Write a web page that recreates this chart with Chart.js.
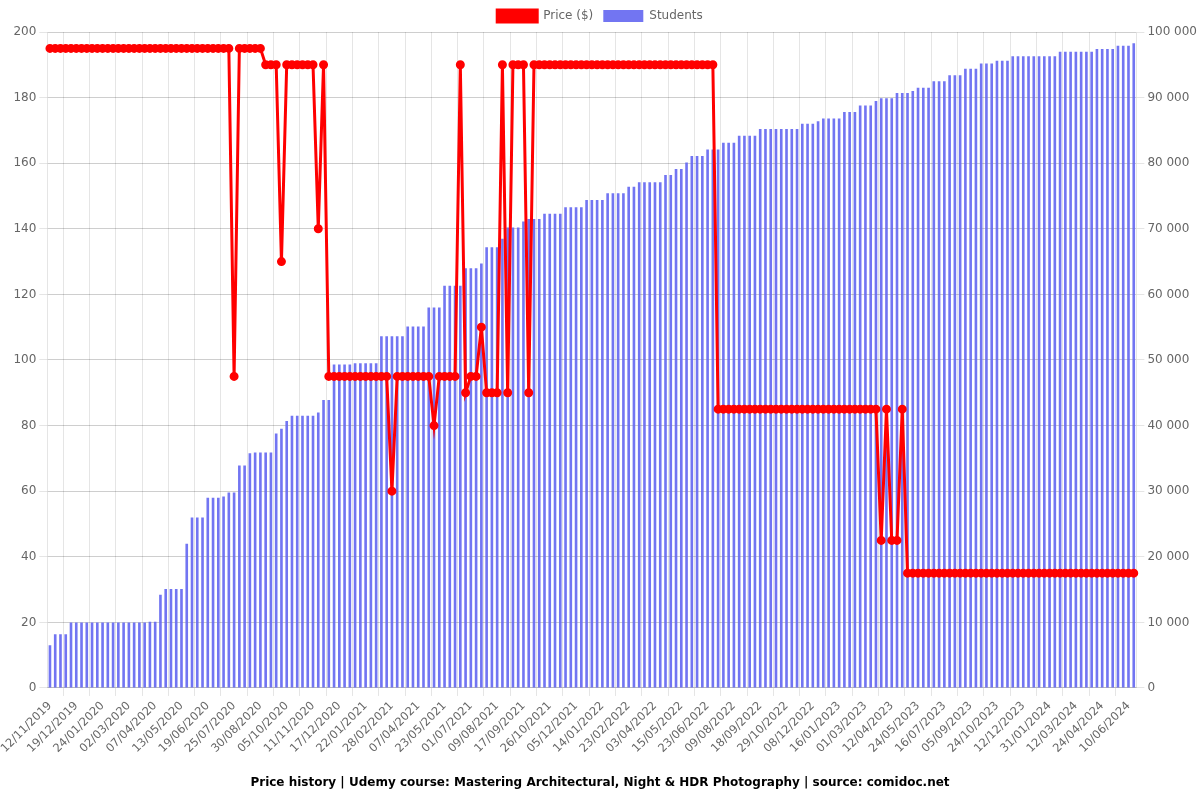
<!DOCTYPE html>
<html>
<head>
<meta charset="utf-8">
<title>Price history</title>
<script src="https://cdn.jsdelivr.net/npm/chart.js@4.4.1/dist/chart.umd.min.js"></script>
<style>
    html, body { margin: 0; padding: 0; background: #fff; }
    .chart-wrap { width: 1200px; height: 800px; position: relative; }
</style>
</head>
<body>
<div class="chart-wrap">
    <canvas id="priceChart"></canvas>
</div>
<script>
// Visible x labels (every 5th point of the series)
const tickLabels = [
    '12/11/2019', '19/12/2019', '24/01/2020', '02/03/2020', '07/04/2020', '13/05/2020',
    '19/06/2020', '25/07/2020', '30/08/2020', '05/10/2020', '11/11/2020', '17/12/2020',
    '22/01/2021', '28/02/2021', '07/04/2021', '23/05/2021', '01/07/2021', '09/08/2021',
    '17/09/2021', '26/10/2021', '05/12/2021', '14/01/2022', '23/02/2022', '03/04/2022',
    '15/05/2022', '23/06/2022', '09/08/2022', '18/09/2022', '29/10/2022', '08/12/2022',
    '16/01/2023', '01/03/2023', '12/04/2023', '24/05/2023', '16/07/2023', '05/09/2023',
    '24/10/2023', '12/12/2023', '31/01/2024', '12/03/2024', '24/04/2024', '10/06/2024'
];

const prices = [
    195, 195, 195, 195, 195, 195, 195, 195, 195, 195,
    195, 195, 195, 195, 195, 195, 195, 195, 195, 195,
    195, 195, 195, 195, 195, 195, 195, 195, 195, 195,
    195, 195, 195, 195, 195, 95, 195, 195, 195, 195,
    195, 190, 190, 190, 130, 190, 190, 190, 190, 190,
    190, 140, 190, 95, 95, 95, 95, 95, 95, 95,
    95, 95, 95, 95, 95, 60, 95, 95, 95, 95,
    95, 95, 95, 80, 95, 95, 95, 95, 190, 90,
    95, 95, 110, 90, 90, 90, 190, 90, 190, 190,
    190, 90, 190, 190, 190, 190, 190, 190, 190, 190,
    190, 190, 190, 190, 190, 190, 190, 190, 190, 190,
    190, 190, 190, 190, 190, 190, 190, 190, 190, 190,
    190, 190, 190, 190, 190, 190, 190, 85, 85, 85,
    85, 85, 85, 85, 85, 85, 85, 85, 85, 85,
    85, 85, 85, 85, 85, 85, 85, 85, 85, 85,
    85, 85, 85, 85, 85, 85, 85, 85, 45, 85,
    45, 45, 85, 35, 35, 35, 35, 35, 35, 35,
    35, 35, 35, 35, 35, 35, 35, 35, 35, 35,
    35, 35, 35, 35, 35, 35, 35, 35, 35, 35,
    35, 35, 35, 35, 35, 35, 35, 35, 35, 35,
    35, 35, 35, 35, 35, 35, 35
];

const students = [
    6500, 8200, 8200, 8200, 10000, 10000, 10000, 10000, 10000, 10000,
    10000, 10000, 10000, 10000, 10000, 10000, 10000, 10000, 10000, 10100,
    10100, 14200, 15100, 15100, 15100, 15100, 22000, 26000, 26000, 26000,
    29000, 29000, 29000, 29200, 29800, 29800, 33900, 33900, 35800, 35900,
    35900, 35900, 35900, 38800, 39500, 40700, 41500, 41500, 41500, 41500,
    41500, 42000, 43900, 43900, 49300, 49300, 49300, 49300, 49500, 49500,
    49500, 49500, 49500, 53600, 53600, 53600, 53600, 53600, 55100, 55100,
    55100, 55100, 58000, 58000, 58000, 61300, 61300, 61300, 61300, 64000,
    64000, 64000, 64700, 67200, 67200, 67200, 68500, 70200, 70200, 70200,
    71100, 71500, 71500, 71500, 72300, 72300, 72300, 72300, 73300, 73300,
    73300, 73300, 74400, 74400, 74400, 74400, 75400, 75400, 75400, 75400,
    76400, 76400, 77100, 77100, 77100, 77100, 77100, 78200, 78200, 79100,
    79100, 80100, 81100, 81100, 81100, 82100, 82100, 82100, 83100, 83100,
    83100, 84200, 84200, 84200, 84200, 85200, 85200, 85200, 85200, 85200,
    85200, 85200, 85200, 86000, 86000, 86000, 86400, 86800, 86800, 86800,
    86800, 87800, 87800, 87800, 88800, 88800, 88800, 89500, 89900, 89900,
    89900, 90700, 90700, 90700, 91000, 91500, 91500, 91500, 92500, 92500,
    92500, 93400, 93400, 93400, 94400, 94400, 94400, 95200, 95200, 95200,
    95600, 95600, 95600, 96300, 96300, 96300, 96300, 96300, 96300, 96300,
    96300, 96300, 97000, 97000, 97000, 97000, 97000, 97000, 97000, 97400,
    97400, 97400, 97400, 97900, 97900, 97900, 98300
];

const priceTicks = [0, 20, 40, 60, 80, 100, 120, 140, 160, 180, 200];
const studentTicks = [0, 10000, 20000, 30000, 40000, 50000, 60000, 70000, 80000, 90000, 100000];

const TITLE = 'Price history | Udemy course: Mastering Architectural, Night & HDR Photography | source: comidoc.net';

// only every 5th date is legible in the picture, the rest stay blank
const categories = prices.map((p, i) => (i % 5 === 0 && tickLabels[i / 5]) ? tickLabels[i / 5] : '');

function fmtThousands(v) {
    return String(v).replace(/\B(?=(\d{3})+(?!\d))/g, ' ');
}

Chart.defaults.font.family = "'DejaVu Sans', sans-serif";
Chart.defaults.font.size = 12;
Chart.defaults.color = '#666';

const ctx = document.getElementById('priceChart').getContext('2d');
new Chart(ctx, {
    type: 'bar',
    data: {
        labels: categories,
        datasets: [
            {
                type: 'line',
                label: 'Price ($)',
                data: prices,
                yAxisID: 'y',
                borderColor: 'rgb(255, 0, 0)',
                backgroundColor: 'rgb(255, 0, 0)',
                borderWidth: 3,
                pointRadius: 3,
                pointBackgroundColor: 'rgb(255, 0, 0)',
                tension: 0
            },
            {
                label: 'Students',
                data: students,
                yAxisID: 'y1',
                backgroundColor: 'rgba(99, 102, 241, 0.9)',
                borderColor: 'rgba(99, 102, 241, 0.9)',
                borderWidth: 0,
                barPercentage: 0.5,
                categoryPercentage: 1.0
            }
        ]
    },
    options: {
        responsive: true,
        maintainAspectRatio: false,
        animation: false,
        plugins: {
            legend: {
                position: 'top',
                labels: { color: '#666' }
            },
            title: {
                display: true,
                text: TITLE,
                position: 'bottom',
                color: '#000',
                font: { size: 12, weight: 'bold' }
            },
            tooltip: { enabled: false }
        },
        scales: {
            x: {
                ticks: { minRotation: 45, maxRotation: 45, font: { size: 11.5 } },
                // leave a little more room between the dates and the title
                afterFit: scale => { scale.height += 7; }
            },
            y: {
                position: 'left',
                min: priceTicks[0],
                max: priceTicks[priceTicks.length - 1],
                ticks: { stepSize: priceTicks[1] - priceTicks[0] }
            },
            y1: {
                position: 'right',
                min: studentTicks[0],
                max: studentTicks[studentTicks.length - 1],
                ticks: {
                    stepSize: studentTicks[1] - studentTicks[0],
                    callback: value => fmtThousands(value)
                }
            }
        }
    }
});
</script>
</body>
</html>
